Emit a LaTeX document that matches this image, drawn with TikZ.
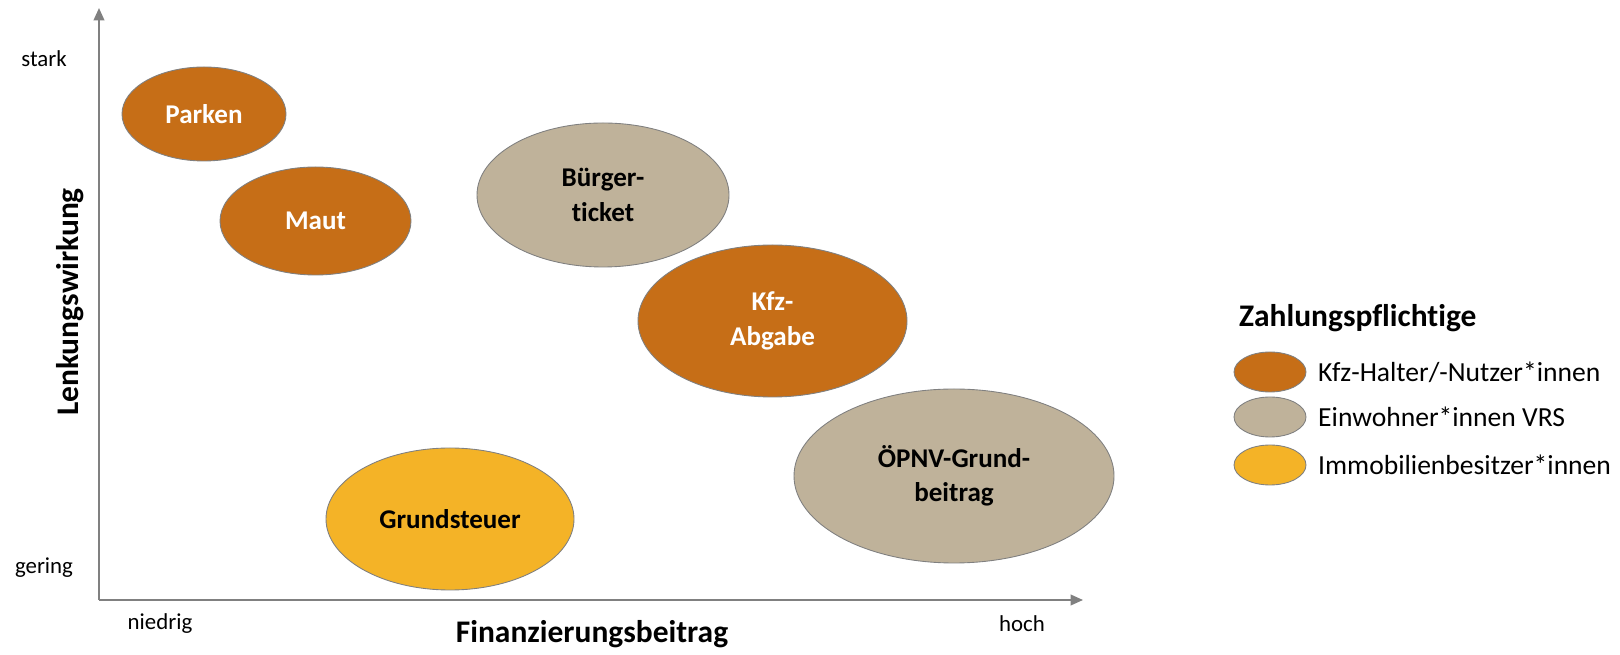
\documentclass[tikz,border=0pt]{standalone}
\usepackage{fontspec}
\setmainfont{Carlito}[Ligatures=NoCommon]
\usetikzlibrary{shapes.geometric,arrows.meta}

\definecolor{kfzorange}{HTML}{C66E17}
\definecolor{einwbeige}{HTML}{BFB29A}
\definecolor{immogelb}{HTML}{F4B327}
\definecolor{achsgrau}{HTML}{808080}

\tikzset{
    blase/.style={ellipse, draw=achsgrau, line width=0.5pt, inner sep=0pt,
        align=center, font=\fontsize{15.4}{19.5}\selectfont\bfseries},
    kfz/.style={blase, fill=kfzorange, text=white},
    einw/.style={blase, fill=einwbeige, text=black},
    immo/.style={blase, fill=immogelb, text=black},
    skala/.style={font=\fontsize{13}{15}\selectfont},
    titel/.style={font=\fontsize{17.9}{21}\selectfont\bfseries},
    legtext/.style={anchor=west, font=\fontsize{15.7}{18}\selectfont}
}

\begin{document}
\begin{tikzpicture}
    \useasboundingbox (0,0) rectangle (32.4,13.08);

    % Axes
    \coordinate (o) at (1.98,1.08);
    \coordinate (ytop) at (1.98,12.92);
    \coordinate (xend) at (21.66,1.08);
    \draw[achsgrau,line width=1.1pt,-{Triangle[length=7pt,width=6pt]}] (o) -- (ytop);
    \draw[achsgrau,line width=1.1pt,-{Triangle[length=7pt,width=6pt]}] (o) -- (xend);

    % Axis labels
    \node[skala] (stark) at (0.88,11.9) {stark};
    \node[skala] (gering) at (0.88,1.72) {gering};
    \node[skala] (niedrig) at (3.2,0.6) {niedrig};
    \node[skala] (hoch) at (20.44,0.6) {hoch};
    \node[titel] (xtitel) at (11.84,0.4) {Finanzierungsbeitrag};
    \node[titel,rotate=90] (ytitel) at (1.4,7.04) {Lenkungswirkung};

    % Instruments
    \node[kfz,minimum width=3.28cm,minimum height=1.88cm] (parken) at (4.08,10.8) {Parken};
    \node[kfz,minimum width=3.82cm,minimum height=2.16cm] (maut) at (6.31,8.66) {Maut};
    \node[einw,minimum width=5.04cm,minimum height=2.88cm] (buerger) at (12.06,9.18) {Bürger-\\ticket};
    \node[kfz,minimum width=5.38cm,minimum height=3.04cm] (kfzabgabe) at (15.45,6.66) {Kfz-\\Abgabe};
    \node[einw,minimum width=6.4cm,minimum height=3.48cm] (oepnv) at (19.08,3.56) {ÖPNV-Grund-\\beitrag};
    \node[immo,minimum width=4.96cm,minimum height=2.84cm] (grundst) at (9.0,2.7) {Grundsteuer};

    % Legend
    \node[titel,anchor=west] (legtitel) at (24.66,6.72) {Zahlungspflichtige};
    \node[kfz,minimum width=1.44cm,minimum height=0.8cm] (leg1) at (25.4,5.64) {};
    \node[einw,minimum width=1.44cm,minimum height=0.8cm] (leg2) at (25.4,4.74) {};
    \node[immo,minimum width=1.44cm,minimum height=0.8cm] (leg3) at (25.4,3.78) {};
    \node[legtext] (leg1t) at (26.24,5.64) {Kfz-Halter/-Nutzer*innen};
    \node[legtext] (leg2t) at (26.24,4.74) {Einwohner*innen VRS};
    \node[legtext] (leg3t) at (26.24,3.78) {Immobilienbesitzer*innen};
\end{tikzpicture}
\end{document}
